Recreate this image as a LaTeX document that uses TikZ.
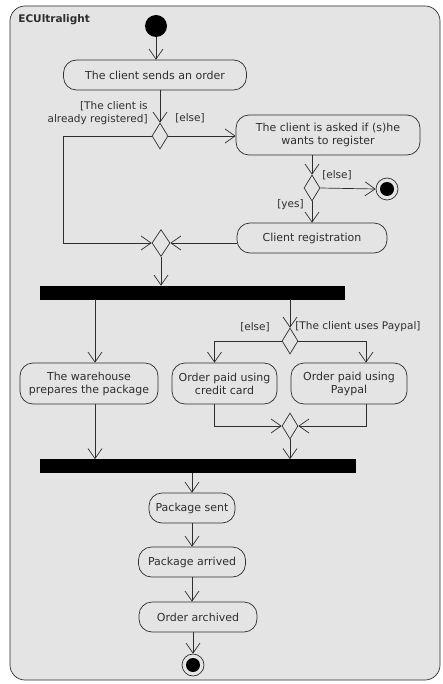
\documentclass[tikz,border=0pt]{standalone}
\usepackage{fontspec}
\setmainfont{DejaVu Sans}
\usetikzlibrary{arrows.meta,shapes.geometric}
\definecolor{framegray}{HTML}{E4E4E4}
\definecolor{inkgray}{HTML}{2E2E2E}

\begin{document}
\begin{tikzpicture}[x=1pt,y=1pt,line width=0.7pt,draw=inkgray,
  >={Straight Barb[length=10pt,width=14pt]}]
			\tikzstyle{every node}+=[inner sep=0pt,text=inkgray,font=\fontsize{11}{13}\selectfont]
			\tikzstyle{action}=[draw,rounded corners=13pt,align=center,minimum height=30pt]
			\tikzstyle{decision}=[draw,diamond,minimum width=16pt,minimum height=26pt]
			\tikzstyle{bar}=[fill=black,draw=black,rectangle,minimum height=13pt]
			\tikzstyle{initial}=[circle,fill=black,minimum size=22pt]
			\tikzstyle{final}=[circle,draw,minimum size=22pt,
			  path picture={\fill[black] (path picture bounding box.center) circle (7pt);}]
			\tikzstyle{guard}=[font=\fontsize{10.5}{13}\selectfont]
			\useasboundingbox (0,0) rectangle (442,-684);
			\draw [fill=framegray,rounded corners=15pt] (10,-6) rectangle (440,-680);
			\node [anchor=west,font=\fontsize{10.5}{13}\selectfont\bfseries] (title) at (18,-20) {ECUltralight};
			\node [initial] (start) at (156,-26) {};
			\node [action,minimum width=183pt] (order) at (155,-75) {The client sends an order};
			\node [decision] (regq) at (160,-136) {};
			\node [action,minimum width=184pt,minimum height=40pt] (ask) at (328,-135) {The client is asked if (s)he\\wants to register};
			\node [decision] (askq) at (312,-188) {};
			\node [final] (end1) at (387,-189) {};
			\node [action,minimum width=150pt] (reg) at (312,-238) {Client registration};
			\node [decision,minimum width=18pt,minimum height=27pt] (merge1) at (161,-243) {};
			\node [bar,minimum width=304pt] (fork) at (192,-292.5) {};
			\node [action,minimum width=138pt,minimum height=41pt] (pack) at (89,-383.5) {The warehouse\\prepares the package};
			\node [decision] (paidq) at (290,-341) {};
			\node [action,minimum width=105pt,minimum height=41pt] (card) at (224.5,-383.5) {Order paid using\\credit card};
			\node [action,minimum width=116pt,minimum height=41pt] (paypal) at (349,-383.5) {Order paid using\\Paypal};
			\node [decision] (merge2) at (290,-426) {};
			\node [bar,minimum width=315pt] (join) at (197.5,-466) {};
			\node [action,minimum width=86pt] (sent) at (192,-508) {Package sent};
			\node [action,minimum width=107pt] (arrived) at (192,-562) {Package arrived};
			\node [action,minimum width=118pt] (archived) at (198,-617) {Order archived};
			\node [final] (end2) at (193,-665) {};
			\path ([xshift=6pt]pack.north) coordinate (packin);
			\path ([xshift=6pt]pack.south) coordinate (packout);
			\path ([xshift=-10pt]card.north) coordinate (cardin);
			\path ([xshift=-10pt]card.south) coordinate (cardout);
			\path ([xshift=17pt]paypal.north) coordinate (paypalin);
			\path ([xshift=17pt]paypal.south) coordinate (paypalout);
			\coordinate (bend1) at (63,-136);
			\draw [->] (start) -- (start |- order.north);
			\draw [->] (order.south -| regq) -- (regq.north);
			\draw [->] (regq.east) -- (regq.east -| ask.west);
			\node [guard,anchor=east,align=right] (l1) at (148,-113) {[The client is\\already registered]};
			\node [guard] (l2) at (190,-118) {[else]};
			\draw [->] (ask.south -| askq) -- (askq.north);
			\draw [->] (askq.east) -- (end1.west);
			\node [guard] (l3) at (337,-175) {[else]};
			\node [guard,anchor=east] (l4) at (304,-205) {[yes]};
			\draw [->] (askq.south) -- (reg.north -| askq);
			\draw [->] (reg.west |- merge1) -- (merge1.east);
			\draw [->] (regq.west) -- (bend1) |- (merge1.west);
			\draw [->] (merge1.south) -- (merge1.south |- fork.north);
			\draw [->] (fork.south -| packin) -- (packin);
			\draw [->] (fork.south -| paidq) -- (paidq.north);
			\draw [->] (paidq.west) -| (cardin);
			\draw [->] (paidq.east) -| (paypalin);
			\node [guard] (l5) at (255,-327) {[else]};
			\node [guard,anchor=west] (l6) at (295,-327) {[The client uses Paypal]};
			\draw [->] (cardout) |- (merge2.west);
			\draw [->] (paypalout) |- (merge2.east);
			\draw [->] (merge2.south) -- (merge2.south |- join.north);
			\draw [->] (packout) -- (packout |- join.north);
			\draw [->] (join.south -| sent) -- (sent.north);
			\draw [->] (sent.south) -- (arrived.north);
			\draw [->] (arrived.south) -- (archived.north -| arrived);
			\draw [->] (archived.south -| end2) -- (end2.north);
\end{tikzpicture}
\end{document}
